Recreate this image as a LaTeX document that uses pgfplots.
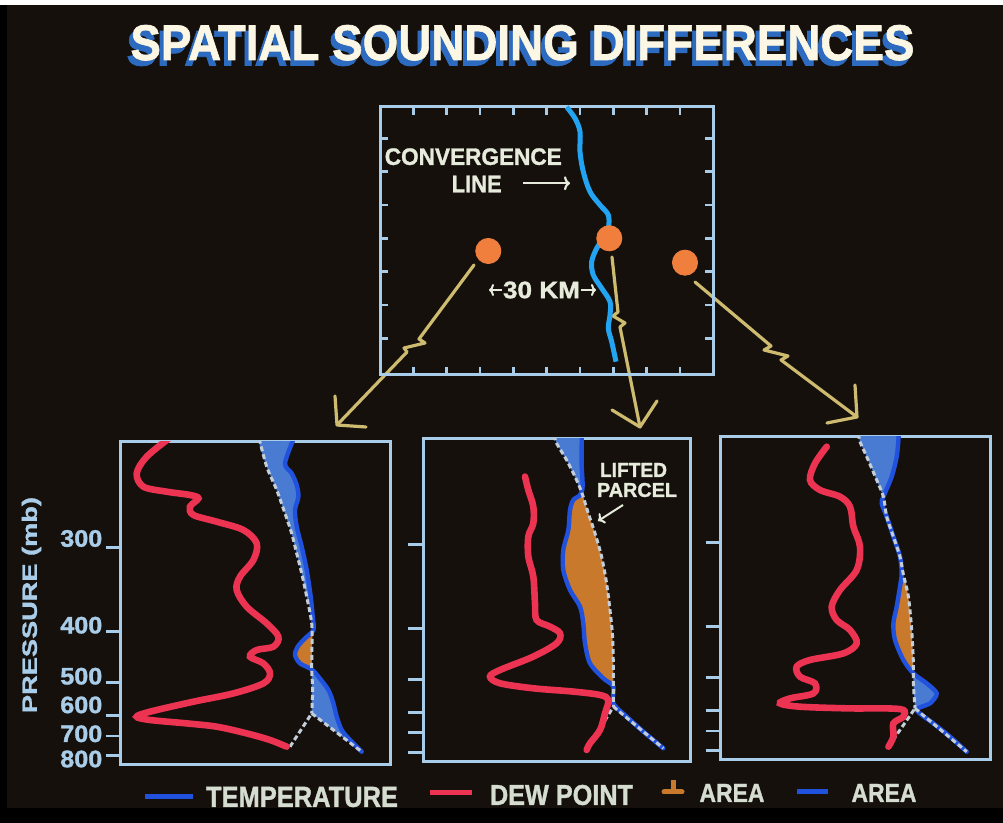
\documentclass[border=0pt]{standalone}
\usepackage{pgfplots}
\pgfplotsset{compat=1.18}
\usepackage{graphicx}
\usepackage{fontspec}
\setmainfont{Liberation Sans}
\newfontfamily\heavy[BoldFeatures={FakeBold=1.3}]{Liberation Sans}
\usetikzlibrary{arrows.meta}

\definecolor{bg}{HTML}{15100C}
\definecolor{framec}{HTML}{A9CDE8}
\definecolor{titlec}{HTML}{FBF7E4}
\definecolor{shadowc}{HTML}{2C6BBF}
\definecolor{convc}{HTML}{22A4F2}
\definecolor{dotc}{HTML}{F07F3E}
\definecolor{boltc}{HTML}{CDBB70}
\definecolor{dewc}{HTML}{EC3352}
\definecolor{tempc}{HTML}{2152DE}
\definecolor{negc}{HTML}{4A7BD2}
\definecolor{posc}{HTML}{C8792C}
\definecolor{parcc}{HTML}{C4CED8}
\definecolor{textc}{HTML}{E6EBDC}
\definecolor{legtc}{HTML}{D5DDD0}

\newcommand{\rs}[3]{\resizebox{#1}{#2}{\heavy\bfseries #3}}
\newcommand{\tl}[2]{\raisebox{#1}[0pt][0pt]{\resizebox{21pt}{8.3pt}{\heavy\bfseries #2}}}
\newcommand{\titletext}{\rs{392pt}{17.5pt}{SPATIAL SOUNDING DIFFERENCES}}

\pgfplotsset{
  panel/.style={scale only axis, xmin=0, ymin=0, y dir=reverse,
    axis line style={framec, line width=1.5pt},
    xtick=\empty, ytick={106,190,241,274,294.5,314},
    ytick pos=left, tick align=outside, major tick length=7.5pt,
    tick style={framec, line width=1.3pt},
    yticklabels={}},
  dew/.style={dewc, line width=3.3pt, smooth, tension=0.55, line cap=round},
  env/.style={tempc, line width=2.2pt, smooth, tension=0.5, line cap=round},
  parc/.style={parcc, line width=1.5pt, dash pattern=on 2.5pt off 1.5pt},
  negf/.style={fill=negc, draw=none},
  posf/.style={fill=posc, draw=none},
  bolt/.style={boltc, line width=1.6pt, line join=round, line cap=round},
}

\begin{document}
\begin{tikzpicture}
% ---------- canvas in pixel coordinates ----------
\begin{axis}[name=main, at={(0,0)}, anchor=south west, scale only axis,
  width=501.5pt, height=411.5pt, xmin=0, xmax=1003, ymin=0, ymax=823,
  y dir=reverse, hide axis, clip=false]
\fill[bg] (axis cs:0,0) rectangle (axis cs:1003,823);
\fill[white] (axis cs:0,0) rectangle (axis cs:1003,5);
\fill[black] (axis cs:0,5) rectangle (axis cs:7,823);
% title with drop shadow (one node)
\node[titlec] at (axis cs:522.5,45.5) {\makebox[0pt][l]{\hspace*{-2pt}\raisebox{-2.75pt}{\textcolor{shadowc}{\titletext}}}\titletext};
% lightning arrows
\addplot[bolt] coordinates {(474,265)(419,339)(425,343)(404,348)(407,352)(337,425)};
\addplot[bolt] coordinates {(335,396)(337,425)(366,427)};
\addplot[bolt] coordinates {(612,257)(618,312)(613,316)(625,323)(620,327)(640,427)};
\addplot[bolt] coordinates {(612,410)(640,427)(657,401)};
\addplot[bolt] coordinates {(695,282)(771,346)(764,350)(788,356)(781,360)(857,417)};
\addplot[bolt] coordinates {(855,385)(857,417)(827,423)};
% pressure axis title
\node[framec, rotate=90] at (axis cs:31.5,605) {\rs{108pt}{7.5pt}{PRESSURE (mb)}};
% lifted parcel annotation
\node[textc] at (axis cs:633.5,470) {\rs{33.5pt}{7pt}{LIFTED}};
\node[textc] at (axis cs:637,490) {\rs{40pt}{7pt}{PARCEL}};
\addplot[textc, line width=1pt, -{To[length=3pt,width=6pt]}] coordinates {(623,505)(598,521)};
% legend
\addplot[tempc, line width=2.5pt] coordinates {(145,796.7)(193,796.7)};
\node[legtc] at (axis cs:302,797) {\rs{96pt}{10pt}{TEMPERATURE}};
\addplot[dewc, line width=2.5pt] coordinates {(430,793)(472,793)};
\node[legtc] at (axis cs:561.5,795) {\rs{71.5pt}{10pt}{DEW POINT}};
\addplot[posc, line width=2.5pt] coordinates {(673,780)(673,791)};
\addplot[posc, line width=2.5pt, line cap=round] coordinates {(664,792)(682,792)};
\node[legtc] at (axis cs:732,793) {\rs{32.5pt}{9pt}{AREA}};
\addplot[tempc, line width=2.5pt] coordinates {(797,792)(828,792)};
\node[legtc] at (axis cs:884,793) {\rs{32.5pt}{9pt}{AREA}};
\fill[black] (axis cs:0,808) rectangle (axis cs:1003,823);
% anchors for sub axes
\coordinate (M) at (axis cs:380,375);
\coordinate (P1) at (axis cs:120.7,764.7);
\coordinate (P2) at (axis cs:423.3,761.7);
\coordinate (P3) at (axis cs:720.7,760);
\end{axis}

% ---------- map ----------
\begin{axis}[at={(M)}, anchor=south west, scale only axis,
  width=166.65pt, height=134.15pt, xmin=380, xmax=713.3, ymin=106.7, ymax=375,
  y dir=reverse, axis line style={framec, line width=1.5pt},
  xtick={413.3,446.7,480,513.3,546.7,580,613.3,646.7,680},
  ytick={138.3,171.7,205,238.3,271.7,305,338.3},
  xtick pos=both, ytick pos=both,
  xticklabels={}, yticklabels={}, tick align=inside, major tick length=4pt,
  tick style={framec, line width=1.3pt}, clip=false]
\addplot[convc, line width=2.5pt, smooth, tension=0.55] coordinates {
(566.7,107)(575,118.3)(580,131.7)(580,151.7)(583.3,171.7)(590,191.7)(600,205)
(608.3,215)(608.3,228.3)(603.3,238.3)(596.7,248.3)(591.7,261.7)(593.3,275)
(601.7,288.3)(610,301.7)(610,315)(608.3,328.3)(611.7,341.7)(616,361.7)};
\addplot[only marks, mark=*, mark size=6.3pt, color=dotc] coordinates {(488.3,251)(609.3,238.3)(685,262.7)};
\node[textc] at (axis cs:473.3,156.7) {\rs{88.5pt}{8.3pt}{CONVERGENCE}};
\node[textc] at (axis cs:476.7,184) {\rs{25pt}{8.3pt}{LINE}};
\addplot[textc, line width=1.1pt, -{To[length=3pt,width=7pt]}] coordinates {(523,183.3)(570,183.3)};
\node[textc] at (axis cs:541.5,290) {\rs{38.5pt}{8.3pt}{30 KM}};
\addplot[textc, line width=1pt, -{To[length=2.5pt,width=6pt]}] coordinates {(502,290)(489,290)};
\addplot[textc, line width=1pt, -{To[length=2.5pt,width=6pt]}] coordinates {(581,290)(596,290)};
\end{axis}

% ---------- sounding 1 ----------
\begin{axis}[panel, at={(P1)}, anchor=south west, width=134.65pt, height=161.5pt,
  xmax=269.3, ymax=323,
  yticklabels={\tl{0.5pt}{300},\tl{-0.85pt}{400},\tl{-0.85pt}{500},\tl{1.3pt}{600},\tl{-2.9pt}{700},\tl{-5.75pt}{800}},
  yticklabel style={text=framec, inner sep=1.5pt}]
\addplot[negf] coordinates {(173.5,-3)(164.3,21.7)(171,31.7)(176,43.3)(177.7,55)(174.3,68.3)(176,85)(181,105)(186,128.3)(190,155)(192,175)(186,155)(181,131.7)(176,111.7)(171,91.7)(164.3,71.7)(156,48.3)(146,25)(139.3,5)(138,-3)} -- cycle;
\addplot[posf] coordinates {(192.3,188)(184.3,196.7)(177,205)(174.3,213.3)(179.3,221.7)(191,227.7)(191.3,210)(191.8,195)} -- cycle;
\addplot[negf] coordinates {(191,227.7)(197.7,235)(207.7,248.3)(212.7,261.7)(216,275)(221,288.3)(229.3,298.3)(241,310)(191,271.7)(191,250)} -- cycle;
\addplot[env] coordinates {(173,-3)(164.3,21.7)(171,31.7)(176,43.3)(177.7,55)(174.3,68.3)(176,85)(181,105)(186,128.3)(190,155)(192,175)(192.7,188.3)(184.3,196.7)(177,205)(174.3,213.3)(179.3,221.7)(191,227.7)(197.7,235)(207.7,248.3)(212.7,261.7)(216,275)(221,288.3)(229.3,298.3)(241,310)};
\addplot[parc, smooth, tension=0.5] coordinates {(138.5,-3)(146,25)(156,48.3)(164.3,71.7)(171,91.7)(176,111.7)(181,131.7)(186,155)(191,181.7)(191.3,205)(191,228.3)(192,248.3)(191,271.7)};
\addplot[parc] coordinates {(191,271.7)(241,310)};
\addplot[parc] coordinates {(169.3,305)(191,271.7)};
\addplot[dew] coordinates {(48,-3)(26,15)(16,31.7)(22.7,45)(46,50)(69.3,53.3)(77.7,56.7)(69.3,65)(72.7,73.3)(96,80)(122.7,88.3)(136,101.7)(132.7,118.3)(119.3,135)(116,148.3)(126,165)(146,181.7)(157.7,195)(152.7,205)(136,208.3)(129.3,215)(142.7,221.7)(149.3,231.7)(142.7,241.7)(112.7,251.7)(72.7,260)(29.3,270)(16,275)(29.3,278.3)(66,281.7)(96,285)(126,291.7)(149.3,298.3)(166,305)};
\end{axis}

% ---------- sounding 2 ----------
\begin{axis}[panel, at={(P2)}, anchor=south west, width=133.35pt, height=161.7pt,
  xmax=266.7, ymax=323.4]
\addplot[negf] coordinates {(131,-3)(133.3,5)(143.3,21.7)(153.3,41.7)(157.5,54)(159.3,48.3)(158.3,25)(158.3,3.3)(158.5,-3)} -- cycle;
\addplot[posf] coordinates {(157.5,54)(150,61.7)(146.7,71.7)(145,91.7)(140,111.7)(140,131.7)(146.7,151.7)(156.7,168.3)(160,185)(161.7,205)(166.7,225)(180,240)(190,248.3)(190,225)(189.3,198.3)(186.7,171.7)(183.3,145)(178.3,118.3)(171.7,95)(165,75)(159.3,56.7)} -- cycle;
\addplot[env] coordinates {(158.5,-3)(158.3,25)(159.3,48.3)(156.7,56.7)(150,61.7)(146.7,71.7)(145,91.7)(140,111.7)(140,131.7)(146.7,151.7)(156.7,168.3)(160,185)(161.7,205)(166.7,225)(180,240)(190,248.3)(190,265)(203.3,278.3)(220,293.3)(240,310)};
\addplot[parc, smooth, tension=0.5] coordinates {(131,-3)(133.3,5)(143.3,21.7)(153.3,41.7)(159.3,56.7)(165,75)(171.7,95)(178.3,118.3)(183.3,145)(186.7,171.7)(189.3,198.3)(190,225)(190,248.3)(190,268.3)};
\addplot[parc] coordinates {(190,268.3)(240,310)};
\addplot[parc] coordinates {(165,310)(190,268.3)};
\addplot[dew] coordinates {(101.7,38.3)(105,51.7)(110,68.3)(110,85)(105,98.3)(105,118.3)(110,138.3)(111.7,165)(113.3,181.7)(126.7,188.3)(136.7,195)(133.3,205)(110,218.3)(76.7,231.7)(66.7,238.3)(76.7,245)(110,250)(150,253.3)(176.7,256.7)(185,261.7)(181.7,275)(176.7,291.7)(166.7,305)(163.3,311.7)};
\end{axis}

% ---------- sounding 3 ----------
\begin{axis}[panel, at={(P3)}, anchor=south west, width=134.65pt, height=161.65pt,
  xmax=269.3, ymax=323.3]
\addplot[negf] coordinates {(137.5,-3)(139.3,5)(146,20)(156,43.3)(162.7,60)(171,40)(176,20)(177.7,3.3)(178,-3)} -- cycle;
\addplot[posf] coordinates {(183,140)(180.5,146)(179.3,150)(176,170)(172.7,186.7)(174.3,203.3)(182.7,223.3)(192.7,236)(192.7,226.7)(191,193.3)(187.7,160)(185,146)} -- cycle;
\addplot[negf] coordinates {(192.7,236)(206,246.7)(216,256.7)(209.3,266.7)(196,273.3)(194.3,271.7)(192.7,246.7)} -- cycle;
\addplot[env] coordinates {(178,-3)(177.7,3.3)(176,20)(171,40)(162.7,60)(161,66.7)(166,80)(172.7,100)(179.3,120)(181,136.7)(179.3,150)(176,170)(172.7,186.7)(174.3,203.3)(182.7,223.3)(192.7,236.7)(206,246.7)(216,256.7)(209.3,266.7)(196,273.3)(212.7,286.7)(229.3,300)(246,315)};
\addplot[parc, smooth, tension=0.5] coordinates {(138,-3)(139.3,5)(146,20)(156,43.3)(162.7,60)(166,80)(172.7,100)(179.3,120)(182.5,137)(187.7,160)(191,193.3)(192.7,226.7)(192.7,246.7)(194.3,271.7)};
\addplot[parc] coordinates {(194.3,271.7)(246,315)};
\addplot[parc] coordinates {(167.7,310)(194.3,271.7)};
\addplot[dew] coordinates {(106,10)(94.3,26.7)(89.3,43.3)(99.3,53.3)(119.3,60)(129.3,70)(132.7,90)(139.3,110)(136,133.3)(119.3,153.3)(111,170)(116,183.3)(129.3,193.3)(136,206.7)(122.7,216.7)(89.3,223.3)(76,230)(79.3,240)(94.3,246.7)(92.7,256.7)(69.3,261.7)(59.3,266.7)(79.3,270)(129.3,271.7)(166,271.7)(182.7,273.3)(182.7,280)(172.7,286.7)(172.7,300)(167.7,310)};
\end{axis}
\end{tikzpicture}
\end{document}
